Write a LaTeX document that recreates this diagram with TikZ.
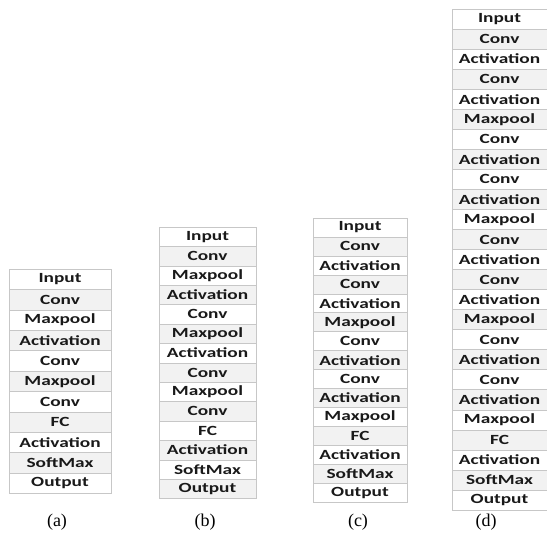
\documentclass[tikz,border=0pt]{standalone}
\usepackage{fontspec}
\setmainfont{Liberation Serif}
\newfontfamily\cellfont[FakeStretch=1.38]{Carlito}

\tikzset{
  layer/.style={draw=black!22, line width=0.6pt, rectangle, inner sep=0pt,
    text=black!90, font=\cellfont\bfseries\fontsize{14}{14}\selectfont},
  caption/.style={font=\fontsize{18}{20}\selectfont}
}

\begin{document}
\begin{tikzpicture}[x=1pt,y=-1pt]

% Page
\useasboundingbox (0,0) rectangle (547,539);
\fill[white] (0,0) rectangle (547,539);

% Column (a)
\foreach \lbl [count=\i] in {Input,Conv,Maxpool,Activation,Conv,Maxpool,Conv,FC,Activation,SoftMax,Output}{
  \pgfmathtruncatemacro\tint{mod(\i,2)==0 ? 5 : 0}
  \node[layer, minimum width=102pt, minimum height=20.4pt, fill=black!\tint]
    (a\i) at (60, 269+20.4*\i-10.2) {\lbl};
}

% Column (b)
\foreach \lbl [count=\i] in {Input,Conv,Maxpool,Activation,Conv,Maxpool,Activation,Conv,Maxpool,Conv,FC,Activation,SoftMax,Output}{
  \pgfmathtruncatemacro\tint{mod(\i,2)==0 ? 5 : 0}
  \node[layer, minimum width=97pt, minimum height=19.4pt, fill=black!\tint]
    (b\i) at (207.5, 227+19.4*\i-9.7) {\lbl};
}

% Column (c)
\foreach \lbl [count=\i] in {Input,Conv,Activation,Conv,Activation,Maxpool,Conv,Activation,Conv,Activation,Maxpool,FC,Activation,SoftMax,Output}{
  \pgfmathtruncatemacro\tint{mod(\i,2)==0 ? 5 : 0}
  \node[layer, minimum width=94pt, minimum height=18.95pt, fill=black!\tint]
    (c\i) at (360, 218+18.95*\i-9.475) {\lbl};
}

% Column (d)
\foreach \lbl [count=\i] in {Input,Conv,Activation,Conv,Activation,Maxpool,Conv,Activation,Conv,Activation,Maxpool,Conv,Activation,Conv,Activation,Maxpool,Conv,Activation,Conv,Activation,Maxpool,FC,Activation,SoftMax,Output}{
  \pgfmathtruncatemacro\tint{mod(\i,2)==0 ? 5 : 0}
  \node[layer, minimum width=95pt, minimum height=20.04pt, fill=black!\tint]
    (d\i) at (499.5, 9+20.04*\i-10.02) {\lbl};
}

% Captions
\node[caption] (capa) at (57,522) {(a)};
\node[caption] (capb) at (205,522) {(b)};
\node[caption] (capc) at (358,522) {(c)};
\node[caption] (capd) at (486,522) {(d)};

\end{tikzpicture}
\end{document}
